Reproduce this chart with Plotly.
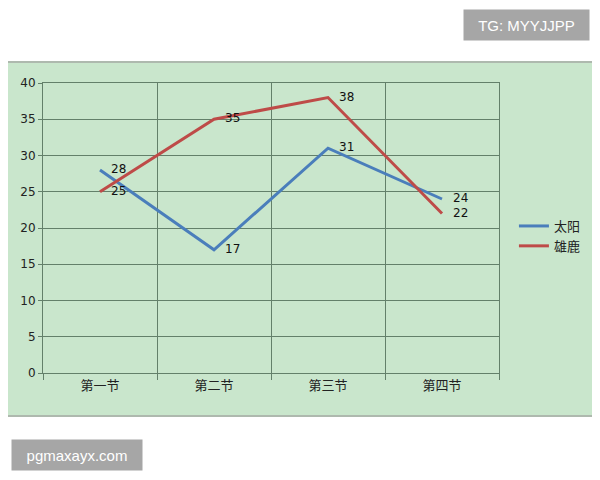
import plotly.graph_objects as go

categories = ['第一节', '第二节', '第三节', '第四节']
taiyang = [28, 17, 31, 24]
xionglu = [25, 35, 38, 22]
y_ticks = [0, 5, 10, 15, 20, 25, 30, 35, 40]

# page offset of the plot div (body margin)
OFF = 8
# plot area in screen pixels (left, right, top, bottom)
L, R, T, B = 41, 499, 83, 373
W, H = R - L, B - T


def px(x):
    return (x - L) / W


def py(y):
    return (B - y) / H


grid = '#63806a'
font = 'DejaVu Sans, Noto Sans CJK SC'

fig = go.Figure()

fig.add_trace(go.Scatter(
    x=categories, y=taiyang, name='太阳', mode='lines+markers+text',
    line=dict(color='#4a7ebb', width=3),
    marker=dict(size=16, color='rgba(0,0,0,0)'),
    text=[str(v) for v in taiyang], textposition='middle right',
    textfont=dict(size=12, color='#111111', family=font),
))
fig.add_trace(go.Scatter(
    x=categories, y=xionglu, name='雄鹿', mode='lines+markers+text',
    line=dict(color='#be4b48', width=3),
    marker=dict(size=16, color='rgba(0,0,0,0)'),
    text=[str(v) for v in xionglu], textposition='middle right',
    textfont=dict(size=12, color='#111111', family=font),
))

# green chart frame
fig.add_shape(type='rect', xref='paper', yref='paper',
              x0=px(3), x1=px(597), y0=py(416), y1=py(62),
              fillcolor='#c9e6cc', line=dict(color='#aeb9ae', width=2), layer='below')

# watermarks
fig.add_annotation(xref='paper', yref='paper', x=px(527), y=py(25),
                   xanchor='center', yanchor='middle',
                   text='TG: MYYJJPP', showarrow=False, bgcolor='#a6a6a6',
                   font=dict(color='white', size=15, family='Liberation Sans'),
                   borderpad=6, width=113, height=18)
fig.add_annotation(xref='paper', yref='paper', x=px(75), y=py(455),
                   xanchor='center', yanchor='middle',
                   text='pgmaxayx.com', showarrow=False, bgcolor='#a6a6a6',
                   font=dict(color='white', size=15, family='Liberation Sans'),
                   borderpad=6, width=118, height=18)

fig.update_layout(
    width=600, height=480,
    margin=dict(l=L - OFF, r=600 - (R - OFF), t=T - OFF, b=480 - (B - OFF)),
    paper_bgcolor='white', plot_bgcolor='#c9e6cc',
    font=dict(family=font, size=12, color='#222222'),
    legend=dict(x=px(514), y=py(236), xanchor='left', yanchor='middle',
                bgcolor='rgba(0,0,0,0)', font=dict(size=13), tracegroupgap=4),
    showlegend=True,
)
fig.update_xaxes(
    type='category', tickson='boundaries', range=[-0.5, 3.5],
    showgrid=True, gridcolor=grid, gridwidth=1,
    showline=True, linecolor=grid, mirror=True,
    ticks='outside', ticklen=6, tickcolor=grid,
    tickfont=dict(size=13, color='#222222'),
)
fig.update_yaxes(
    range=[0, 40], tickvals=y_ticks,
    showgrid=True, gridcolor=grid, gridwidth=1,
    showline=True, linecolor=grid, mirror=True, zeroline=False,
    ticks='outside', ticklen=4, tickcolor=grid,
    tickfont=dict(size=12, color='#222222'),
)

fig.write_html('out.html')
